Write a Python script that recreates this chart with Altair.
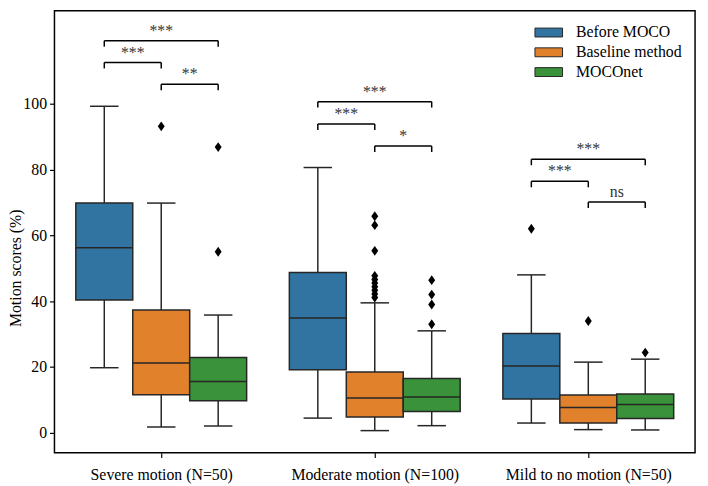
import altair as alt
import pandas as pd

groups = ["Severe motion (N=50)", "Moderate motion (N=100)", "Mild to no motion (N=50)"]
methods = ["Before MOCO", "Baseline method", "MOCOnet"]
colors = ["#3274a1", "#e1812c", "#3a923a"]

# box statistics, one row per group, one value per method
whisker_low = [[19.8, 1.8, 2.1], [4.5, 0.7, 2.2], [3.0, 1.0, 0.9]]
q1 = [[40.4, 11.6, 9.8], [19.2, 4.8, 6.5], [10.3, 3.0, 4.4]]
median = [[56.2, 21.2, 15.6], [34.9, 10.6, 10.9], [20.3, 7.7, 8.6]]
q3 = [[69.8, 37.3, 22.9], [48.7, 18.5, 16.5], [30.2, 11.5, 11.8]]
whisker_high = [[99.2, 69.8, 35.8], [80.6, 39.5, 31.0], [48.0, 21.5, 22.4]]
outliers = [
    [[], [93.1], [86.8, 55.0]],
    [[], [65.8, 63.1, 55.3, 47.7, 46.6, 45.5, 44.4, 43.3, 42.2, 41.1], [46.4, 42.0, 39.0, 33.0]],
    [[62.0], [34.0], [24.4]],
]

# significance brackets
bracket_group = [0, 0, 0, 1, 1, 1, 2, 2, 2]
bracket_from = [0, 0, 1, 0, 0, 1, 0, 0, 1]
bracket_to = [2, 1, 2, 2, 1, 2, 2, 1, 2]
bracket_level = [119.1, 112.5, 105.9, 100.6, 93.8, 87.1, 83.1, 76.4, 70.1]
bracket_label = ["***", "***", "**", "***", "***", "*", "***", "***", "ns"]
leg = 1.8

w = 0.8 / 3
FONT = "Liberation Serif"


def center(g, m):
    return g + (m - 1) * w


box_rows = []
for g in range(3):
    for m in range(3):
        c = center(g, m)
        box_rows.append(dict(
            method=methods[m], c=c, left=c - w / 2, right=c + w / 2,
            capl=c - w / 4, capr=c + w / 4,
            lo=whisker_low[g][m], q1=q1[g][m], med=median[g][m],
            q3=q3[g][m], hi=whisker_high[g][m]))
box_df = pd.DataFrame(box_rows)

out_rows = []
for g in range(3):
    for m in range(3):
        for v in outliers[g][m]:
            out_rows.append(dict(c=center(g, m), v=v))
out_df = pd.DataFrame(out_rows)

seg_rows = []
txt_rows = []
for g, a, b, lvl, lab in zip(bracket_group, bracket_from, bracket_to, bracket_level, bracket_label):
    xa, xb = center(g, a), center(g, b)
    seg_rows.append(dict(x=xa, x2=xb, y=lvl, y2=lvl))
    seg_rows.append(dict(x=xa, x2=xa, y=lvl - leg, y2=lvl))
    seg_rows.append(dict(x=xb, x2=xb, y=lvl - leg, y2=lvl))
    txt_rows.append(dict(x=(xa + xb) / 2, y=lvl, label=lab))
seg_df = pd.DataFrame(seg_rows)
txt_df = pd.DataFrame(txt_rows)

xscale = alt.Scale(domain=[-0.5, 2.5], nice=False, zero=False)
yscale = alt.Scale(domain=[-6.0, 128.2], nice=False, zero=False)

label_expr = "[" + ",".join("'" + g + "'" for g in groups) + "][datum.value]"
xaxis = alt.Axis(values=[0, 1, 2], labelExpr=label_expr, title=None, grid=False,
                 domain=False, tickSize=5, labelPadding=9,
                 labelFont=FONT, labelFontSize=16, labelColor="black",
                 tickColor="black", tickWidth=1.2)
yaxis = alt.Axis(values=[0, 20, 40, 60, 80, 100], title="Motion scores (%)", grid=False,
                 domain=False, tickSize=5, labelPadding=3,
                 labelFont=FONT, labelFontSize=16, labelColor="black",
                 tickColor="black", tickWidth=1.2,
                 titleFont=FONT, titleFontSize=16, titleFontWeight="normal",
                 titleColor="black",
                 titleAngle=-90, titleX=-39, titleY=260, titleAlign="center",
                 titleBaseline="middle")


def X(f):
    return alt.X(f, type="quantitative", scale=xscale, axis=xaxis)


def Y(f):
    return alt.Y(f, type="quantitative", scale=yscale, axis=yaxis)


edge = "#262626"
sw = 1.5

base = alt.Chart(box_df)

whisk_lo = base.mark_rule(color=edge, strokeWidth=sw).encode(x=X("c"), y=Y("lo"), y2="q1:Q")
whisk_hi = base.mark_rule(color=edge, strokeWidth=sw).encode(x=X("c"), y=Y("q3"), y2="hi:Q")
cap_lo = base.mark_rule(color=edge, strokeWidth=sw).encode(x=X("capl"), x2="capr:Q", y=Y("lo"))
cap_hi = base.mark_rule(color=edge, strokeWidth=sw).encode(x=X("capl"), x2="capr:Q", y=Y("hi"))
boxes = base.mark_rect(stroke=edge, strokeWidth=sw, opacity=1).encode(
    x=X("left"), x2="right:Q", y=Y("q1"), y2="q3:Q",
    color=alt.Color("method:N", scale=alt.Scale(domain=methods, range=colors),
                    legend=alt.Legend(
                        title=None, orient="none", legendX=492, legendY=14,
                        symbolType="M-3.1,-1L3.1,-1L3.1,1L-3.1,1Z", symbolSize=81,
                        symbolStrokeColor=edge, symbolStrokeWidth=1, symbolOpacity=1,
                        labelFont=FONT, labelFontSize=16, labelOffset=19.5,
                        rowPadding=4, padding=0, labelColor="black")))
meds = base.mark_rule(color=edge, strokeWidth=sw).encode(x=X("left"), x2="right:Q", y=Y("med"))

pts = alt.Chart(out_df).mark_point(
    shape="M0,-1L0.7,0L0,1L-0.7,0Z", size=100, filled=True, color="black", opacity=1
).encode(x=X("c"), y=Y("v"))

segs = alt.Chart(seg_df).mark_rule(color="black", strokeWidth=1.5).encode(
    x=X("x"), x2="x2:Q", y=Y("y"), y2="y2:Q")

texts = alt.Chart(txt_df).mark_text(
    fontSize=16, color="#333333", baseline="alphabetic", dy=-5, font=FONT
).encode(x=X("x"), y=Y("y"), text="label:N")

chart = alt.layer(whisk_lo, whisk_hi, cap_lo, cap_hi, boxes, meds, pts, segs, texts).properties(
    width=648, height=447,
    autosize=alt.AutoSizeParams(type="none"),
    padding={"left": 47, "top": 0, "right": 5, "bottom": 40},
).configure(
    font=FONT,
).configure_view(
    stroke="black", strokeWidth=1.5,
)

chart.save("out.html", embed_options={"renderer": "svg", "actions": False})
